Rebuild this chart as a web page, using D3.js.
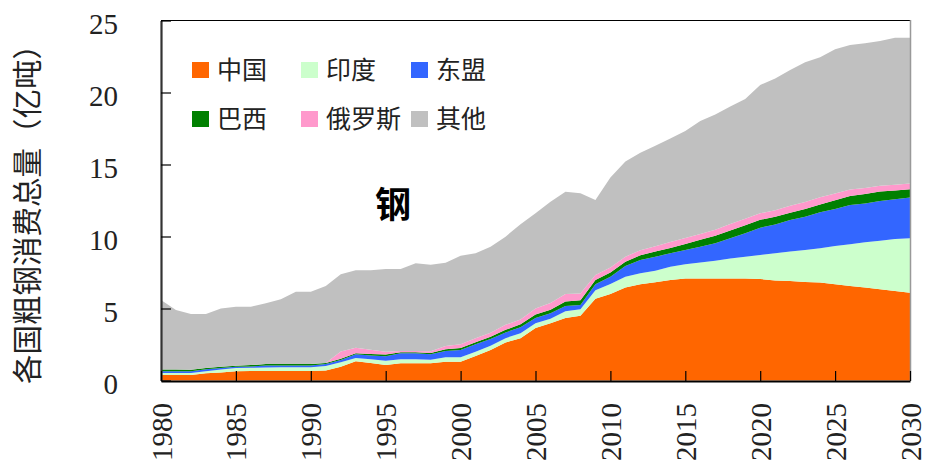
<!DOCTYPE html>
<html><head><meta charset="utf-8">
<script src="https://cdn.jsdelivr.net/npm/d3@7"></script>
<style>body{margin:0;background:#fff}svg{display:block}</style>
</head><body>
<svg id="c" width="927" height="465"></svg>
<script>
const years = d3.range(1980, 2031);
const seriesNames = ["中国", "印度", "东盟", "巴西", "俄罗斯", "其他"];
const seriesColors = ["#ff6600", "#ccffcc", "#3366ff", "#008000", "#ff99cc", "#c0c0c0"];
const china = [0.38,0.38,0.38,0.5,0.56,0.64,0.66,0.66,0.66,0.66,
  0.66,0.7,0.96,1.33,1.22,1.08,1.19,1.19,1.19,1.31,
  1.31,1.70,2.12,2.64,2.93,3.65,3.97,4.34,4.5,5.67,
  6.0,6.45,6.68,6.82,6.98,7.09,7.09,7.09,7.09,7.09,
  7.05,6.95,6.91,6.84,6.8,6.68,6.56,6.45,6.33,6.22,6.1];
const india = [0.14,0.14,0.14,0.14,0.2,0.22,0.22,0.25,0.26,0.26,
  0.26,0.3,0.3,0.24,0.26,0.3,0.28,0.28,0.25,0.3,
  0.31,0.3,0.3,0.3,0.35,0.33,0.32,0.47,0.44,0.6,
  0.7,0.76,0.76,0.81,0.92,0.98,1.11,1.23,1.39,1.51,
  1.67,1.88,2.04,2.22,2.38,2.66,2.9,3.15,3.38,3.61,3.77];
const asean = [0.13,0.13,0.13,0.14,0.11,0.09,0.09,0.13,0.13,0.13,
  0.13,0.14,0.17,0.26,0.26,0.3,0.42,0.42,0.39,0.44,
  0.49,0.51,0.46,0.4,0.41,0.36,0.38,0.37,0.31,0.41,
  0.5,0.74,0.93,0.97,0.93,0.99,1.09,1.21,1.39,1.62,
  1.89,2.01,2.2,2.32,2.5,2.57,2.73,2.7,2.76,2.75,2.83];
const brazil = [0.12,0.12,0.1,0.08,0.08,0.08,0.1,0.1,0.1,0.1,
  0.1,0.08,0.08,0.07,0.1,0.12,0.08,0.08,0.08,0.12,
  0.15,0.15,0.16,0.18,0.21,0.25,0.25,0.3,0.33,0.3,
  0.3,0.3,0.32,0.35,0.38,0.42,0.48,0.52,0.55,0.56,
  0.55,0.54,0.5,0.53,0.55,0.6,0.63,0.65,0.65,0.62,0.58];
const russia = [0,0,0,0,0,0,0,0,0,0,
  0,0,0.5,0.38,0.3,0.2,0.08,0.07,0.12,0.22,
  0.25,0.28,0.28,0.35,0.34,0.41,0.46,0.53,0.46,0.35,
  0.35,0.35,0.35,0.38,0.4,0.42,0.4,0.42,0.45,0.45,
  0.45,0.45,0.48,0.48,0.5,0.48,0.45,0.42,0.4,0.4,0.4];
const others = [4.82,4.13,3.87,3.76,4.05,4.1,4.06,4.22,4.49,5.02,
  5.02,5.34,5.36,5.37,5.51,5.75,5.7,6.11,6.0,5.78,
  6.16,5.89,5.97,6.12,6.61,6.61,7.04,7.1,6.96,5.2,
  6.25,6.6,6.78,6.97,7.19,7.43,7.85,8.01,8.15,8.32,
  8.91,9.15,9.43,9.71,9.71,10.01,10.03,10.05,10.06,10.2,10.12];
const yTicks = [0, 5, 10, 15, 20, 25];
const xTicks = [1980,1985,1990,1995,2000,2005,2010,2015,2020,2025,2030];

const seriesValues = [china, india, asean, brazil, russia, others];
const table = years.map((yr, i) => {
  const row = {year: yr};
  seriesNames.forEach((n, k) => row[n] = seriesValues[k][i]);
  return row;
});

const svg = d3.select("#c");
const x = d3.scaleLinear().domain([1980, 2030]).range([161, 910]);
const y = d3.scaleLinear().domain([0, 25]).range([380.5, 20.5]);

const stack = d3.stack().keys(seriesNames);
const layers = stack(table);
const area = d3.area()
  .x(d => x(d.data.year))
  .y0(d => y(d[0]))
  .y1(d => y(d[1]));

svg.append("g").selectAll("path").data(layers).join("path")
  .attr("d", area)
  .attr("fill", (d, i) => seriesColors[i]);

const serif = "'Liberation Serif', 'Times New Roman', serif";
const cjk = "'Noto Sans CJK SC', sans-serif";

// frame: top and right
svg.append("line").attr("x1", 161).attr("x2", 910.5).attr("y1", 20.5).attr("y2", 20.5)
  .attr("stroke", "#000").attr("stroke-width", 1.2);
svg.append("line").attr("x1", 910.5).attr("x2", 910.5).attr("y1", 20).attr("y2", 381)
  .attr("stroke", "#999").attr("stroke-width", 1.5);

// left axis
const yAxis = d3.axisLeft(y).tickValues(yTicks).tickSizeInner(-10).tickSizeOuter(0).tickPadding(43);
const gy = svg.append("g").attr("transform", "translate(161,0)").call(yAxis);
gy.select(".domain").attr("stroke", "#333").attr("stroke-width", 2.2);
gy.selectAll(".tick line").attr("stroke", "#000").attr("stroke-width", 1.2);
gy.selectAll(".tick text").attr("font-family", serif).attr("font-size", 29)
  .attr("fill", "#222").attr("dy", "0.45em");

// bottom axis
const xAxis = d3.axisBottom(x).tickValues(xTicks).tickSizeInner(-10).tickSizeOuter(0).tickFormat(d3.format("d"));
const gx = svg.append("g").attr("transform", "translate(0,381)").call(xAxis);
gx.select(".domain").attr("stroke", "#000").attr("stroke-width", 2);
gx.selectAll(".tick line").attr("stroke", "#000").attr("stroke-width", 1.2);
gx.selectAll(".tick text").attr("font-family", serif).attr("font-size", 29).attr("fill", "#222")
  .attr("text-anchor", "end").attr("y", 0).attr("dy", 0)
  .attr("transform", "translate(10,22) rotate(-90)");

// y title
svg.append("text").attr("transform", "translate(38,207) rotate(-90)")
  .attr("text-anchor", "middle").attr("font-family", cjk).attr("font-size", 29.5).attr("fill", "#222")
  .text("各国粗钢消费总量（亿吨）");

// legend
const legendX = [192, 301, 411];
const legendY = [62, 111];
seriesNames.forEach((n, i) => {
  const cx = legendX[i % 3], cy = legendY[Math.floor(i / 3)];
  svg.append("rect").attr("x", cx).attr("y", cy).attr("width", 17).attr("height", 16).attr("fill", seriesColors[i]);
  svg.append("text").attr("x", cx + 25).attr("y", cy + 8).attr("dy", "0.36em")
    .attr("font-family", cjk).attr("font-size", 25).attr("fill", "#222").text(n);
});

// chart label
svg.append("text").attr("x", 393).attr("y", 205).attr("dy", "0.36em").attr("text-anchor", "middle")
  .attr("font-family", cjk).attr("font-weight", "bold").attr("font-size", 36).attr("fill", "#000").text("钢");
</script>
</body></html>
